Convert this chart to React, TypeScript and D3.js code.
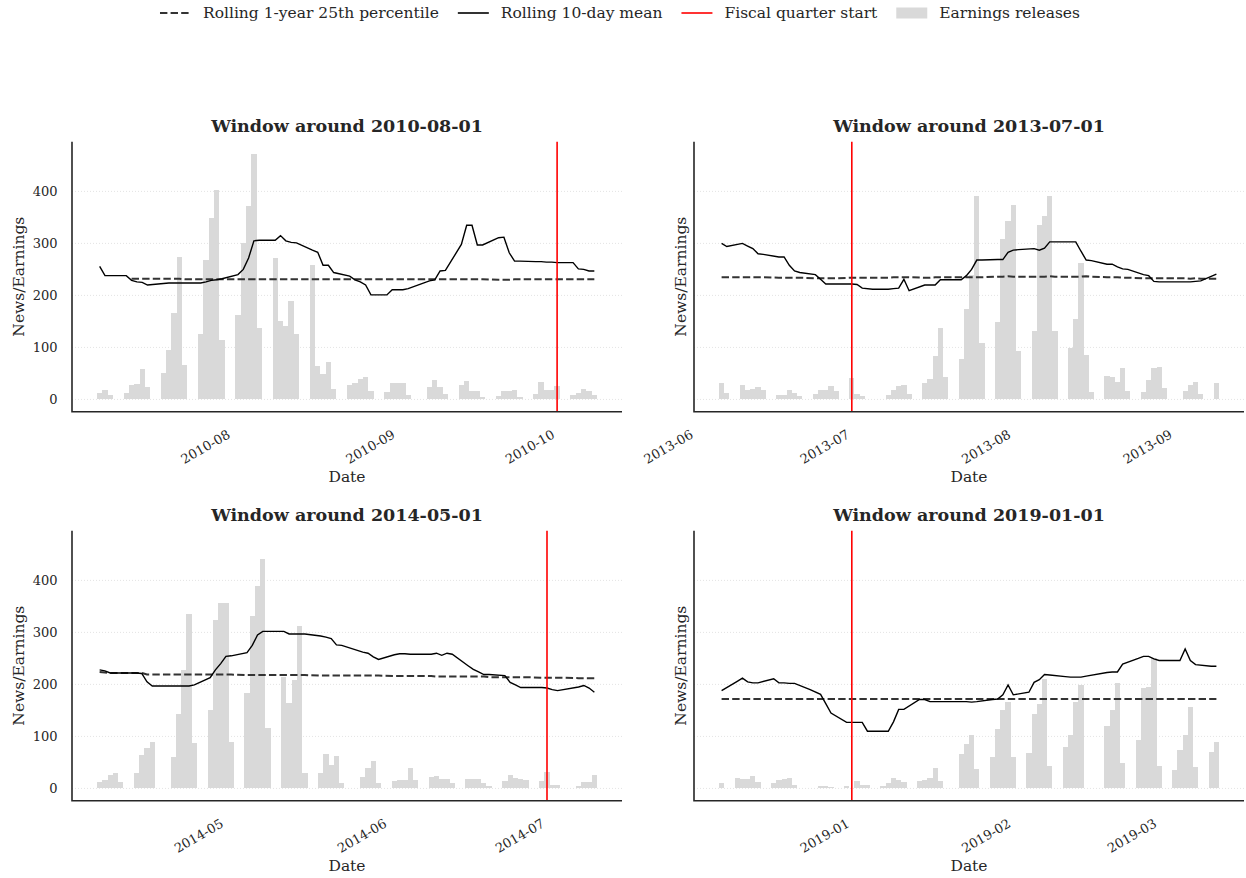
import { useEffect, useRef } from "react";
import * as d3 from "d3";

// window centre dates (panel titles) and the fiscal quarter start in each window
const windowCentres = ["2010-08-01", "2013-07-01", "2014-05-01", "2019-01-01"];
const quarterStarts = ["2010-10-01", "2013-07-01", "2014-07-01", "2019-01-01"];
const windowStarts = ["2010-07-07", "2013-06-06", "2014-04-07", "2018-12-07"];
const windowEnds = ["2010-10-08", "2013-09-09", "2014-07-10", "2019-03-12"];
const marketHolidays = [
  "2010-09-06",
  "2013-07-04", "2013-09-02",
  "2014-04-18", "2014-05-26", "2014-07-04",
  "2018-12-25", "2019-01-01", "2019-01-21", "2019-02-18",
];
const yTicks = [0, 100, 200, 300, 400];

// earnings releases per trading day
const releases2010 = [
  13, 19, 8,
  13, 27, 29, 58, 24,
  50, 95, 166, 274, 67,
  125, 268, 349, 402, 115,
  162, 301, 372, 472, 138,
  271, 151, 142, 190, 126,
  258, 65, 49, 72, 20,
  28, 31, 40, 44, 17,
  15, 32, 31, 31, 8,
  24, 37, 24, 10,
  27, 35, 16, 16, 5,
  6, 16, 17, 19, 5,
  11, 33, 19, 19, 26,
  8, 13, 20, 17, 8,
];
const mean2010 = [
  256, 238, 238,
  238, 229, 226, 225, 220,
  223, 224, 224, 224, 224,
  224, 226, 229, 230, 232,
  240, 250, 272, 305, 306,
  306, 315, 305, 302, 301,
  287, 283, 258, 258, 244,
  237, 230, 226, 220, 201,
  201, 211, 211, 211, 213,
  228, 230, 247, 248,
  298, 335, 335, 297, 297,
  311, 312, 282, 266, 266,
  265, 265, 264, 264, 263,
  263, 251, 250, 247, 247,
];
const pct2010 = [
  null, null, null,
  null, 232, 232, 232, 232,
  232, 232, 232, 232, 231,
  231, 231, 231, 231, 231,
  231, 231, 231, 231, 231,
  231, 231, 231, 231, 231,
  231, 231, 231, 231, 231,
  231, 231, 231, 231, 231,
  231, 231, 231, 231, 231,
  231, 231, 231, 231,
  231, 231, 231, 231, 231,
  230, 230, 230, 231, 231,
  231, 231, 231, 231, 231,
  231, 231, 231, 231, 231,
];

const releases2013 = [
  31, 13,
  27, 18, 21, 23, 19,
  8, 8, 19, 13, 6,
  10, 19, 19, 25, 17,
  42, 10, 6, 1,
  8, 18, 26, 27, 11,
  31, 40, 83, 137, 44,
  78, 173, 240, 392, 109,
  148, 308, 344, 374, 94,
  132, 336, 352, 392, 131,
  98, 154, 263, 86, 15,
  46, 43, 34, 60, 17,
  15, 38, 60, 62, 22,
  17, 28, 33, 10,
  31,
];
const mean2013 = [
  300, 294,
  300, 295, 290, 280, 279,
  274, 274, 258, 247, 244,
  240, 231, 222, 222, 222,
  222, 221, 214, 212,
  212, 213, 214, 231, 209,
  220, 220, 220, 230, 230,
  230, 238, 250, 268, 268,
  269, 269, 283, 287, 288,
  290, 287, 291, 303, 303,
  303, 303, 285, 268, 267,
  260, 260, 255, 251, 250,
  240, 238, 227, 226, 226,
  226, 226, 227, 228,
  241,
];
const pct2013 = [
  235, 235,
  235, 235, 235, 235, 235,
  234, 234, 234, 234, 234,
  233, 233, 233, 233, 233,
  234, 234, 234, 234,
  234, 235, 235, 235, 235,
  234, 234, 235, 235, 235,
  235, 235, 235, 235, 235,
  236, 236, 237, 236, 236,
  236, 236, 236, 237, 236,
  236, 236, 236, 237, 236,
  235, 235, 235, 234, 234,
  233, 233, 233, 233, 233,
  233, 232, 233, 232,
  232,
];

const releases2014 = [
  13, 17, 25, 29, 13,
  29, 64, 78, 90,
  60, 144, 228, 335, 87,
  151, 324, 356, 356, 90,
  183, 332, 390, 442, 116,
  215, 165, 208, 312, 29,
  29, 67, 45, 63, 10,
  22, 39, 53, 10,
  15, 17, 17, 40, 17,
  22, 23, 18, 19, 10,
  19, 18, 18, 10, 4,
  15, 26, 21, 18, 16,
  15, 31, 7, 7,
  4, 12, 12, 26,
];
const mean2014 = [
  228, 226, 222, 222, 222,
  222, 221, 205, 197,
  197, 197, 197, 197, 199,
  213, 228, 240, 254, 255,
  261, 275, 295, 302, 302,
  302, 297, 297, 297, 297,
  293, 291, 288, 276, 275,
  262, 260, 253, 248,
  257, 259, 259, 258, 258,
  258, 260, 256, 260, 258,
  236, 229, 224, 219, 219,
  217, 204, 199, 194, 194,
  194, 193, 190, 188,
  195, 198, 193, 185,
];
const pct2014 = [
  224, 223, 222, 222, 222,
  222, 222, 219, 219,
  219, 219, 219, 219, 219,
  219, 219, 219, 219, 219,
  218, 218, 218, 218, 218,
  218, 218, 218, 218, 218,
  217, 217, 217, 217, 217,
  217, 217, 217, 217,
  216, 216, 216, 216, 216,
  216, 215, 215, 215, 215,
  215, 215, 215, 215, 214,
  214, 214, 214, 214, 214,
  213, 213, 213, 213,
  212, 212, 212, 212,
];

const releases2019 = [
  10,
  20, 19, 18, 23, 13,
  10, 17, 19, 21, 6,
  1, 4, 5, 2,
  4, 15, 6, 6,
  4, 10, 21, 17, 12,
  15, 16, 20, 39, 15,
  66, 86, 102, 38,
  60, 115, 150, 167, 60,
  69, 144, 163, 210, 44,
  80, 102, 166, 198, 0,
  121, 150, 202, 49,
  94, 193, 195, 250, 44,
  35, 74, 102, 156, 42,
  71, 90,
];
const mean2019 = [
  188,
  206, 212, 205, 203, 203,
  211, 203, 203, 202, 202,
  190, 181, 163, 145,
  127, 127, 127, 110,
  110, 110, 128, 152, 152,
  171, 171, 167, 167, 167,
  167, 167, 166, 167,
  171, 172, 180, 199, 180,
  185, 204, 209, 219, 218,
  215, 214, 214, 214, 216,
  223, 224, 224, 239,
  250, 254, 254, 249, 246,
  246, 246, 268, 246, 238,
  235, 235,
];
const pct2019 = [
  172,
  172, 172, 172, 172, 172,
  172, 172, 172, 172, 172,
  172, 172, 172, 172,
  172, 172, 172, 172,
  172, 172, 172, 172, 172,
  172, 172, 172, 172, 172,
  172, 172, 172, 172,
  172, 172, 172, 172, 172,
  172, 172, 172, 172, 172,
  172, 172, 172, 172, 172,
  172, 172, 172, 172,
  172, 172, 172, 172, 172,
  172, 172, 172, 172, 172,
  172, 172,
];

const releases = [releases2010, releases2013, releases2014, releases2019];
const means = [mean2010, mean2013, mean2014, mean2019];
const percentiles = [pct2010, pct2013, pct2014, pct2019];

const legendLabels = [
  "Rolling 1-year 25th percentile",
  "Rolling 10-day mean",
  "Fiscal quarter start",
  "Earnings releases",
];

const W = 1246;
const H = 878;
const AX_W = 550;
const AX_H = 270;
const COL_X = [72, 694];
const ROW_Y = [141.7, 530.7];
const DAY = 864e5;
const FONT = "'DejaVu Serif', serif";
const INK = "#262626";
const BAR = "#d9d9d9";
const LABEL_SIZE = 15.5;
const TICK_SIZE = 13;
const TITLE_SIZE = 17.5;

const parse = d3.utcParse("%Y-%m-%d");
const fmtDay = d3.utcFormat("%Y-%m-%d");

function tradingDays(start: string, end: string): Date[] {
  const out: Date[] = [];
  const last = parse(end)!;
  for (let d = parse(start)!; d <= last; d = d3.utcDay.offset(d, 1)) {
    const wd = d.getUTCDay();
    if (wd === 0 || wd === 6) continue;
    if (marketHolidays.includes(fmtDay(d))) continue;
    out.push(d);
  }
  return out;
}

export default function App() {
  const svgRef = useRef<SVGSVGElement>(null);

  useEffect(() => {
    const svg = d3.select(svgRef.current);
    svg.selectAll("*").remove();
    svg.append("rect").attr("width", W).attr("height", H).attr("fill", "white");

    const yMax = d3.max(releases.flat())!;
    const pad = yMax * 0.05;
    const y = d3.scaleLinear().domain([-pad, yMax + pad]).range([AX_H, 0]);

    windowCentres.forEach((centre, i) => {
      const left = COL_X[i % 2];
      const top = ROW_Y[Math.floor(i / 2)];
      const days = tradingDays(windowStarts[i], windowEnds[i]);
      const first = +days[0];
      const last = +days[days.length - 1];
      const span = last - first + DAY;
      const x = d3
        .scaleUtc()
        .domain([first - DAY / 2 - 0.05 * span, last + DAY / 2 + 0.05 * span])
        .range([0, AX_W]);

      const g = svg.append("g").attr("transform", `translate(${left},${top})`);

      // grid
      g.selectAll(".grid")
        .data(yTicks)
        .join("line")
        .attr("x1", 0)
        .attr("x2", AX_W)
        .attr("y1", (d) => y(d))
        .attr("y2", (d) => y(d))
        .attr("stroke", "#dcdcdc")
        .attr("stroke-width", 0.8)
        .attr("stroke-dasharray", "1,2");

      // earnings bars
      g.selectAll(".bar")
        .data(days)
        .join("rect")
        .attr("x", (d) => x(+d - DAY / 2))
        .attr("width", (d) => x(+d + DAY / 2) - x(+d - DAY / 2))
        .attr("y", (_, j) => y(releases[i][j]))
        .attr("height", (_, j) => y(0) - y(releases[i][j]))
        .attr("fill", BAR)
        .attr("shape-rendering", "crispEdges");

      const line = d3
        .line<number | null>()
        .defined((v) => v != null)
        .x((_, j) => x(days[j]))
        .y((v) => y(v as number));

      g.append("path")
        .attr("d", line(percentiles[i]))
        .attr("fill", "none")
        .attr("stroke", "#333333")
        .attr("stroke-width", 2)
        .attr("stroke-dasharray", "7.4,3.2");

      g.append("path")
        .attr("d", line(means[i]))
        .attr("fill", "none")
        .attr("stroke", "black")
        .attr("stroke-width", 1.4);

      const qx = x(parse(quarterStarts[i])!);
      g.append("line")
        .attr("x1", qx)
        .attr("x2", qx)
        .attr("y1", 0)
        .attr("y2", AX_H)
        .attr("stroke", "red")
        .attr("stroke-width", 1.6);

      // spines
      g.append("path")
        .attr("d", `M0,0V${AX_H}H${AX_W}`)
        .attr("fill", "none")
        .attr("stroke", INK)
        .attr("stroke-width", 1.6);

      // y tick labels (shared y: left column only)
      if (i % 2 === 0) {
        g.selectAll(".ytl")
          .data(yTicks)
          .join("text")
          .attr("x", -14.5)
          .attr("y", (d) => y(d))
          .attr("dy", "0.35em")
          .attr("text-anchor", "end")
          .attr("font-family", FONT)
          .attr("font-size", TICK_SIZE)
          .attr("fill", INK)
          .text((d) => d);
      }

      // x tick labels
      const months = d3.utcMonth.range(x.domain()[0], x.domain()[1]);
      g.selectAll(".xtl")
        .data(months)
        .join("text")
        .attr("transform", (d) => `translate(${x(d) - 1.5},${AX_H + 25.5}) rotate(-30)`)
        .attr("text-anchor", "end")
        .attr("font-family", FONT)
        .attr("font-size", TICK_SIZE)
        .attr("fill", INK)
        .text((d) => d3.utcFormat("%Y-%m")(d));

      g.append("text")
        .attr("x", AX_W / 2)
        .attr("y", AX_H + 70.5)
        .attr("text-anchor", "middle")
        .attr("font-family", FONT)
        .attr("font-size", LABEL_SIZE)
        .attr("fill", INK)
        .text("Date");

      g.append("text")
        .attr("transform", `translate(${i % 2 === 0 ? -53 : -13.5},${AX_H / 2}) rotate(-90)`)
        .attr("text-anchor", "middle")
        .attr("dy", "0.35em")
        .attr("font-family", FONT)
        .attr("font-size", LABEL_SIZE)
        .attr("fill", INK)
        .text("News/Earnings");

      g.append("text")
        .attr("x", AX_W / 2)
        .attr("y", -10)
        .attr("text-anchor", "middle")
        .attr("font-family", FONT)
        .attr("font-size", TITLE_SIZE)
        .attr("font-weight", "bold")
        .attr("fill", INK)
        .text(`Window around ${centre}`);
    });

    // legend, laid out left to right and centred
    const lg = svg.append("g");
    const handleLen = 31;
    const handleGap = 12;
    const colGap = 19;
    let cx = 0;
    legendLabels.forEach((label, k) => {
      const item = lg.append("g").attr("transform", `translate(${cx},0)`);
      if (k === 3) {
        item.append("rect")
          .attr("x", 0).attr("y", -5.5).attr("width", handleLen).attr("height", 11)
          .attr("fill", BAR);
      } else {
        item.append("line")
          .attr("x1", 0).attr("x2", handleLen).attr("y1", 0).attr("y2", 0)
          .attr("stroke", k === 0 ? "#333333" : k === 1 ? "black" : "red")
          .attr("stroke-width", k === 0 ? 2 : 1.6)
          .attr("stroke-dasharray", k === 0 ? "7.4,3.2" : null);
      }
      const t = item.append("text")
        .attr("x", handleLen + handleGap)
        .attr("dy", "0.35em")
        .attr("font-family", FONT)
        .attr("font-size", LABEL_SIZE)
        .attr("fill", INK)
        .text(label);
      cx += handleLen + handleGap + (t.node() as SVGTextElement).getComputedTextLength() + colGap;
    });
    const total = cx - colGap;
    lg.attr("transform", `translate(${620 - total / 2},13)`);
  }, []);

  return (
    <svg
      ref={svgRef}
      width={W}
      height={H}
      style={{ position: "absolute", left: 0, top: 0 }}
    />
  );
}
